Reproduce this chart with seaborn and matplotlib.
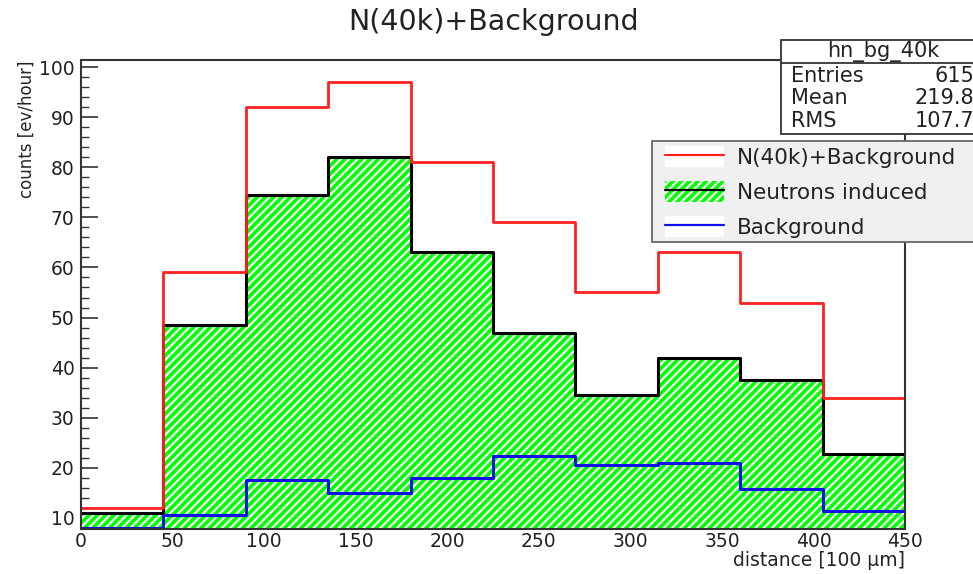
import numpy as np
import pandas as pd
import matplotlib
matplotlib.use("Agg")
import matplotlib.pyplot as plt
import seaborn as sns
from matplotlib.lines import Line2D
from matplotlib.patches import Patch, Rectangle
from matplotlib.ticker import MultipleLocator

# ---- data ----
bin_edges = [0, 45, 90, 135, 180, 225, 270, 315, 360, 405, 450]
total_counts = [12.0, 59.0, 92.0, 97.0, 81.0, 69.0, 55.0, 63.0, 53.0, 34.0]
neutron_counts = [11.0, 48.5, 74.5, 82.0, 63.0, 47.0, 34.5, 42.0, 37.5, 22.8]
background_counts = [7.9, 10.5, 17.5, 15.0, 18.0, 22.3, 20.5, 21.0, 15.7, 11.3]
series_labels = ["N(40k)+Background", "Neutrons induced", "Background"]
stats_title = "hn_bg_40k"
stats_names = ["Entries", "Mean", "RMS"]
stats_values = ["615", "219.8", "107.7"]

edges = np.array(bin_edges, dtype=float)
centers = (edges[:-1] + edges[1:]) / 2
df = pd.DataFrame({"x": centers, "total": total_counts,
                   "neutrons": neutron_counts, "bg": background_counts})

sns.set_style("white")
plt.rcParams["font.family"] = ["DejaVu Sans"]
plt.rcParams["hatch.color"] = "white"
plt.rcParams["hatch.linewidth"] = 1.6

RED = "#ff2020"
GREEN = "#00ff00"
BLUE = "#1010ee"
TXT = "#222222"
W, H = 973, 574
fig = plt.figure(figsize=(W / 100, H / 100), dpi=100)
ax = fig.add_axes([81 / W, 1 - 529 / H, (905 - 81) / W, (529 - 60) / H])

bins_list = list(bin_edges)
sns.histplot(data=df, x="x", weights="neutrons", bins=bins_list, element="step",
             fill=True, color=GREEN, alpha=1, linewidth=0, hatch="////",
             edgecolor="white", ax=ax)
sns.histplot(data=df, x="x", weights="neutrons", bins=bins_list, element="step",
             fill=False, color="black", linewidth=2.2, ax=ax)
sns.histplot(data=df, x="x", weights="total", bins=bins_list, element="step",
             fill=False, color=RED, linewidth=2.0, ax=ax)
sns.histplot(data=df, x="x", weights="bg", bins=bins_list, element="step",
             fill=False, color=BLUE, linewidth=2.2, ax=ax)

ax.set_xlim(0, 450)
ax.set_ylim(7.8, 101.4)
ax.xaxis.set_major_locator(MultipleLocator(50))
ax.xaxis.set_minor_locator(MultipleLocator(10))
ax.yaxis.set_major_locator(MultipleLocator(10))
ax.yaxis.set_minor_locator(MultipleLocator(2))
ax.tick_params(axis="both", which="major", direction="in", length=12,
               width=1.2, color="#333333", labelsize=13.5, pad=4.5,
               bottom=True, left=True, labelcolor=TXT)
ax.tick_params(axis="both", which="minor", direction="in", length=6,
               width=1.0, color="#333333", bottom=True, left=True)
ax.tick_params(axis="x", which="major", length=7, pad=2.5)
ax.tick_params(axis="x", which="minor", length=4)
for s in ax.spines.values():
    s.set_color("#333333")
    s.set_linewidth(1.5)

ax.set_xlabel("")
ax.set_ylabel("")
fig.text(905 / W, 1 - 566 / H, "distance [100 μm]", ha="right", va="baseline",
         fontsize=13.5, color=TXT)
fig.text(27 / W, 1 - 60 / H, "counts [ev/hour]", ha="center", va="top",
         rotation=90, fontsize=12, color=TXT)

fig.text(494 / W, 1 - 30 / H, "N(40k)+Background", ha="center", va="baseline",
         fontsize=20.5, color=TXT)

# stats box
x0, y0, x1, y1 = 781 / W, 1 - 134 / H, 1.02, 1 - 40 / H
fig.add_artist(Rectangle((x0, y0), x1 - x0, y1 - y0, transform=fig.transFigure,
                         facecolor="white", edgecolor="#333333", linewidth=1.3,
                         zorder=5))
fig.add_artist(Line2D([x0, x1], [1 - 63 / H, 1 - 63 / H], transform=fig.transFigure,
                      color="#333333", linewidth=1.3, zorder=6))
fig.text(883 / W, 1 - 52 / H, stats_title, ha="center", va="center",
         fontsize=15, zorder=7, color=TXT)
for i, (n, v) in enumerate(zip(stats_names, stats_values)):
    yy = 1 - (76 + 22.5 * i) / H
    fig.text(791 / W, yy, n, ha="left", va="center", fontsize=15, zorder=7,
             color=TXT)
    fig.text(974 / W, yy, v, ha="right", va="center", fontsize=15, zorder=7,
             color=TXT)

# legend box (frame drawn separately for ROOT-like padding)
fig.add_artist(Rectangle((652 / W, 1 - 242 / H), 0.5, 101 / H,
                         transform=fig.transFigure, facecolor="#f0f0f0",
                         edgecolor="#666666", linewidth=1.3, zorder=7))
wbg = dict(facecolor="white", edgecolor="none")
handles = [(Patch(**wbg), Line2D([], [], color=RED, linewidth=1.6)),
           (Patch(facecolor=GREEN, edgecolor="white", hatch="////", linewidth=0),
            Line2D([], [], color="black", linewidth=1.6)),
           (Patch(**wbg), Line2D([], [], color=BLUE, linewidth=1.6))]
leg = fig.legend(handles, series_labels, loc="upper left",
                 bbox_to_anchor=(665 / W, 1 - 146 / H),
                 bbox_transform=fig.transFigure,
                 prop={"size": 15.5}, frameon=False,
                 handlelength=2.75, handleheight=1.15, handletextpad=0.6,
                 labelspacing=0.6, borderpad=0, borderaxespad=0)
for t in leg.get_texts():
    t.set_color(TXT)
leg.set_zorder(9)

fig.savefig("out.png", dpi=100)
